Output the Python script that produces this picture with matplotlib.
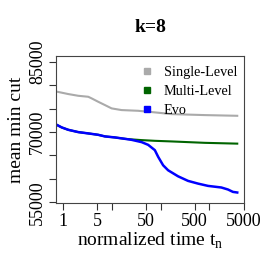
import matplotlib
matplotlib.use("Agg")
import matplotlib.pyplot as plt
from matplotlib.lines import Line2D

plt.rcParams['font.family'] = ['Liberation Serif', 'DejaVu Serif']
plt.rcParams['mathtext.fontset'] = 'custom'
plt.rcParams['mathtext.rm'] = 'Liberation Serif'

title = "k=8"
series_names = ["Single-Level", "Multi-Level", "Evo"]
series_colors = ["#AAAAAA", "#006400", "#0000FF"]

single_t = [0.73, 1.30, 2.08, 3.33, 3.90, 5.33, 7.3, 10.0, 16.0, 34.9, 76.5, 167, 801, 3700]
single_v = [78650, 78100, 77730, 77520, 77180, 76450, 75750, 75040, 74680, 74530, 74190, 73820, 73610, 73460]

multi_t = [0.754, 0.954, 1.30, 2.08, 3.33, 5.33, 7.3, 11.7, 18.7, 21.8, 41.1, 76.5, 167, 365, 801, 3700]
multi_v = [71540, 70980, 70470, 69980, 69700, 69400, 69060, 68840, 68545, 68480, 68270, 68120, 67990, 67840, 67690, 67520]

evo_t = [0.754, 0.954, 1.30, 2.08, 3.33, 5.33, 7.3, 11.7, 18.7, 25.6, 41.1, 55.9, 76.5, 89.5, 113, 143, 228, 365, 584, 936, 1750, 2390, 3020, 3700]
evo_v = [71540, 70980, 70470, 69980, 69700, 69400, 69060, 68840, 68545, 68330, 67840, 67260, 66130, 64700, 62900, 61830, 60550, 59570, 58990, 58500, 58160, 57730, 57220, 57090]

x_ticks = [1, 5, 10, 50, 100, 500, 1000, 5000]
x_labels = ["1", "5", "", "50", "", "500", "", "5000"]
y_ticks = [55000, 60000, 65000, 70000, 75000, 80000, 85000]
y_labels = ["55000", "", "", "70000", "", "", "85000"]

fig = plt.figure(figsize=(2.73, 2.73), dpi=100)
ax = fig.add_axes([56/273, 1-203/273, 188/273, 147/273])

ax.plot(single_t, single_v, color=series_colors[0], lw=1.5, solid_joinstyle='round')
ax.plot(multi_t, multi_v, color=series_colors[1], lw=1.5, solid_joinstyle='round')
ax.plot(evo_t, evo_v, color=series_colors[2], lw=1.8, solid_joinstyle='round')

ax.set_xscale('log')
ax.set_xlim(0.73, 5085)
ax.set_ylim(54850, 86220)
ax.set_xticks(x_ticks)
ax.set_xticklabels(x_labels)
ax.minorticks_off()
ax.set_yticks(y_ticks)
ax.set_yticklabels(y_labels, rotation=90, va='center')

ax.tick_params(axis='both', direction='out', length=5, width=0.8, color='#333333', labelsize=13, pad=2)
for s in ax.spines.values():
    s.set_linewidth(0.8)
    s.set_color('#444444')

ax.set_xlabel("normalized time t$_\\mathregular{n}$", fontsize=14, labelpad=1)
ax.set_ylabel("mean min cut", fontsize=14, labelpad=3)
ax.set_title(title, fontsize=14, fontweight='bold', pad=17)

handles = [Line2D([], [], marker='s', ls='none', color=c, markersize=5) for c in series_colors]
ax.legend(handles, series_names, loc='upper right', frameon=False, fontsize=10.3,
          handletextpad=0.7, labelspacing=0.42, borderaxespad=0.0, handlelength=1.0,
          borderpad=0.0, bbox_to_anchor=(0.965, 0.935))

fig.savefig("out.png", dpi=100)
